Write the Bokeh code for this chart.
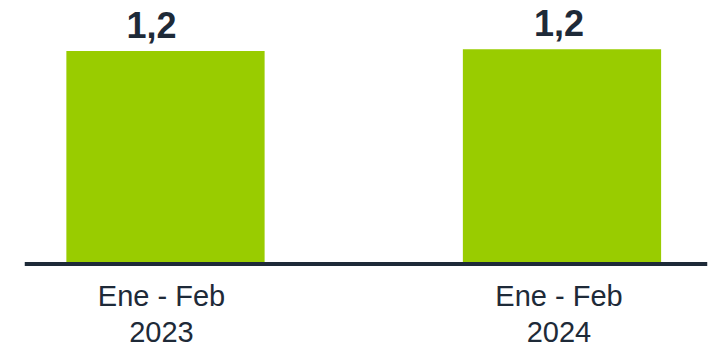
from bokeh.plotting import figure
from bokeh.models import Range1d, Span, ColumnDataSource
from bokeh.core.properties import value
from bokeh.embed import file_html
from bokeh.resources import INLINE

# ---- data ----
periods = ["Ene - Feb", "Ene - Feb"]
years = ["2023", "2024"]
values = [1.19, 1.20]
value_labels = ["1,2", "1,2"]

# ---- style ----
GREEN = "#99CC00"
DARK = "#1E2A38"
FONT = "Liberation Sans"
value_label_dx = [-14, -3]
cat_label_dx = [-4, -3]

xs = list(range(len(values)))
src = ColumnDataSource(dict(
    x=xs,
    top=values,
    vlab=value_labels,
    clab=[f"{p}\n{y}" for p, y in zip(periods, years)],
    vdx=value_label_dx,
    cdx=cat_label_dx,
))

p = figure(width=711, height=348, output_backend="svg", toolbar_location=None,
           x_range=Range1d(-0.3556, 1.3670), y_range=Range1d(-0.4721, 1.4721),
           min_border_left=24, min_border_right=4, min_border_top=0, min_border_bottom=0)
p.axis.visible = False
p.grid.visible = False
p.outline_line_color = None
p.background_fill_color = "white"
p.border_fill_color = "white"

p.vbar(x="x", top="top", bottom=0, width=0.5, source=src,
       fill_color=GREEN, line_color=None)

p.add_layout(Span(location=0, dimension="width", line_color=DARK, line_width=4))

p.text(x="x", y="top", text="vlab", source=src, x_offset="vdx", y_offset=-26,
       text_align="center", text_baseline="alphabetic",
       text_font=value(FONT), text_font_style="bold", text_font_size="36px",
       text_color=DARK)

p.text(x="x", y=0, text="clab", source=src, x_offset="cdx", y_offset=16,
       text_align="center", text_baseline="top", text_line_height=1.12,
       text_font=value(FONT), text_font_size="29px", text_color=DARK)

open("out.html", "w").write(file_html(p, INLINE))
